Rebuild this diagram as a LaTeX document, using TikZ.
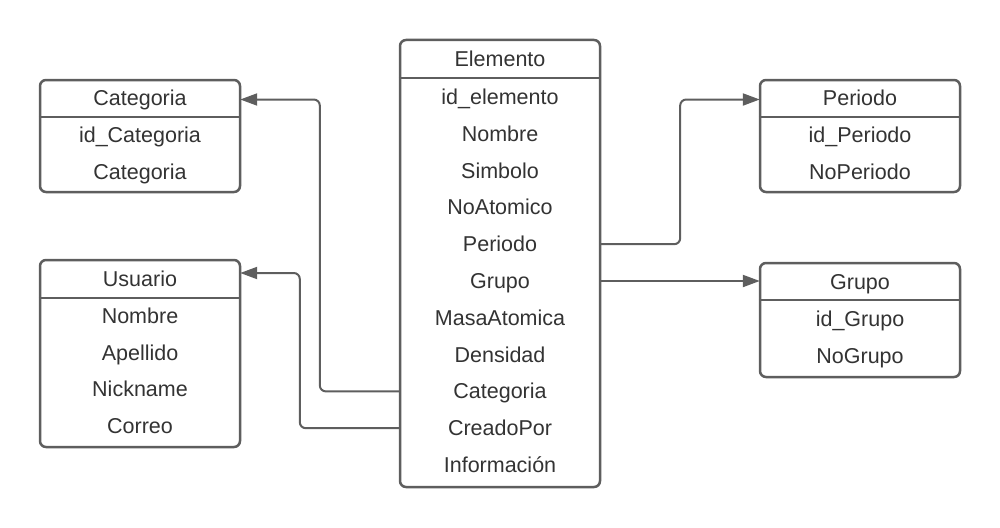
\documentclass[tikz,border=0pt]{standalone}
\usepackage{fontspec}
\setmainfont{Liberation Sans}
\usetikzlibrary{arrows.meta, positioning, calc}
\definecolor{edge}{RGB}{94,94,94}
\definecolor{ink}{RGB}{51,51,51}

\begin{document}
\begin{tikzpicture}[x=1pt, y=-1pt,
  tbl/.style={draw=edge, line width=2.5pt, rounded corners=6pt, fill=white, minimum width=200pt, inner sep=0pt},
  row/.style={font=\fontsize{21.5}{25}\selectfont, text=ink, minimum width=200pt, inner sep=0pt, text height=15pt, text depth=0pt},
  sep/.style={draw=edge, line width=2.5pt},
  link/.style={draw=edge, line width=2pt, rounded corners=6pt, -{Triangle[length=17pt, width=12pt]}}]
  \useasboundingbox (0,0) rectangle (1000,527);
  % Elemento
  \node[tbl, minimum height=447pt] (el) at (500,263.5) {};
  \draw[sep] (el.west |- 0,78) -- (el.east |- 0,78);
  \node[row] (el-h) at (500,59) {Elemento};
  \node[row] (el-id) at (500,97) {id\_elemento};
  \node[row] (el-nom) at (500,133.8) {Nombre};
  \node[row] (el-sim) at (500,170.6) {Simbolo};
  \node[row] (el-no) at (500,207.4) {NoAtomico};
  \node[row] (el-per) at (500,244.2) {Periodo};
  \node[row] (el-grp) at (500,281) {Grupo};
  \node[row] (el-masa) at (500,317.8) {MasaAtomica};
  \node[row] (el-den) at (500,354.6) {Densidad};
  \node[row] (el-cat) at (500,391.4) {Categoria};
  \node[row] (el-crea) at (500,428.2) {CreadoPor};
  \node[row] (el-info) at (500,465) {Información};
  % Categoria
  \node[tbl, minimum height=112pt] (cat) at (140,136) {};
  \draw[sep] (cat.west |- 0,117) -- (cat.east |- 0,117);
  \node[row] (cat-h) at (140,98) {Categoria};
  \node[row] (cat-id) at (140,135) {id\_Categoria};
  \node[row] (cat-nom) at (140,172) {Categoria};
  % Usuario
  \node[tbl, minimum height=187pt] (usr) at (140,353.5) {};
  \draw[sep] (usr.west |- 0,298) -- (usr.east |- 0,298);
  \node[row] (usr-h) at (140,279) {Usuario};
  \node[row] (usr-nom) at (140,316) {Nombre};
  \node[row] (usr-ape) at (140,352.5) {Apellido};
  \node[row] (usr-nick) at (140,389) {Nickname};
  \node[row] (usr-mail) at (140,426) {Correo};
  % Periodo
  \node[tbl, minimum height=112pt] (per) at (860,136) {};
  \draw[sep] (per.west |- 0,117) -- (per.east |- 0,117);
  \node[row] (per-h) at (860,98) {Periodo};
  \node[row] (per-id) at (860,135) {id\_Periodo};
  \node[row] (per-no) at (860,172) {NoPeriodo};
  % Grupo
  \node[tbl, minimum height=114pt] (grp) at (860,320) {};
  \draw[sep] (grp.west |- 0,300) -- (grp.east |- 0,300);
  \node[row] (grp-h) at (860,281.5) {Grupo};
  \node[row] (grp-id) at (860,319) {id\_Grupo};
  \node[row] (grp-no) at (860,356) {NoGrupo};
  % Connectors
  \draw[link] (el-cat.west) -- ++(-80,0) |- ($(cat-h.east)+(0,1.5)$);
  \draw[link] (el-crea.west) -- ++(-100,0) |- ($(usr-h.east)+(0,-6)$);
  \draw[link] (el-per.east) -- ++(80,0) |- ($(per-h.west)+(0,1.5)$);
  \draw[link] (el-grp.east) -- (grp-h.west |- el-grp);
\end{tikzpicture}
\end{document}
